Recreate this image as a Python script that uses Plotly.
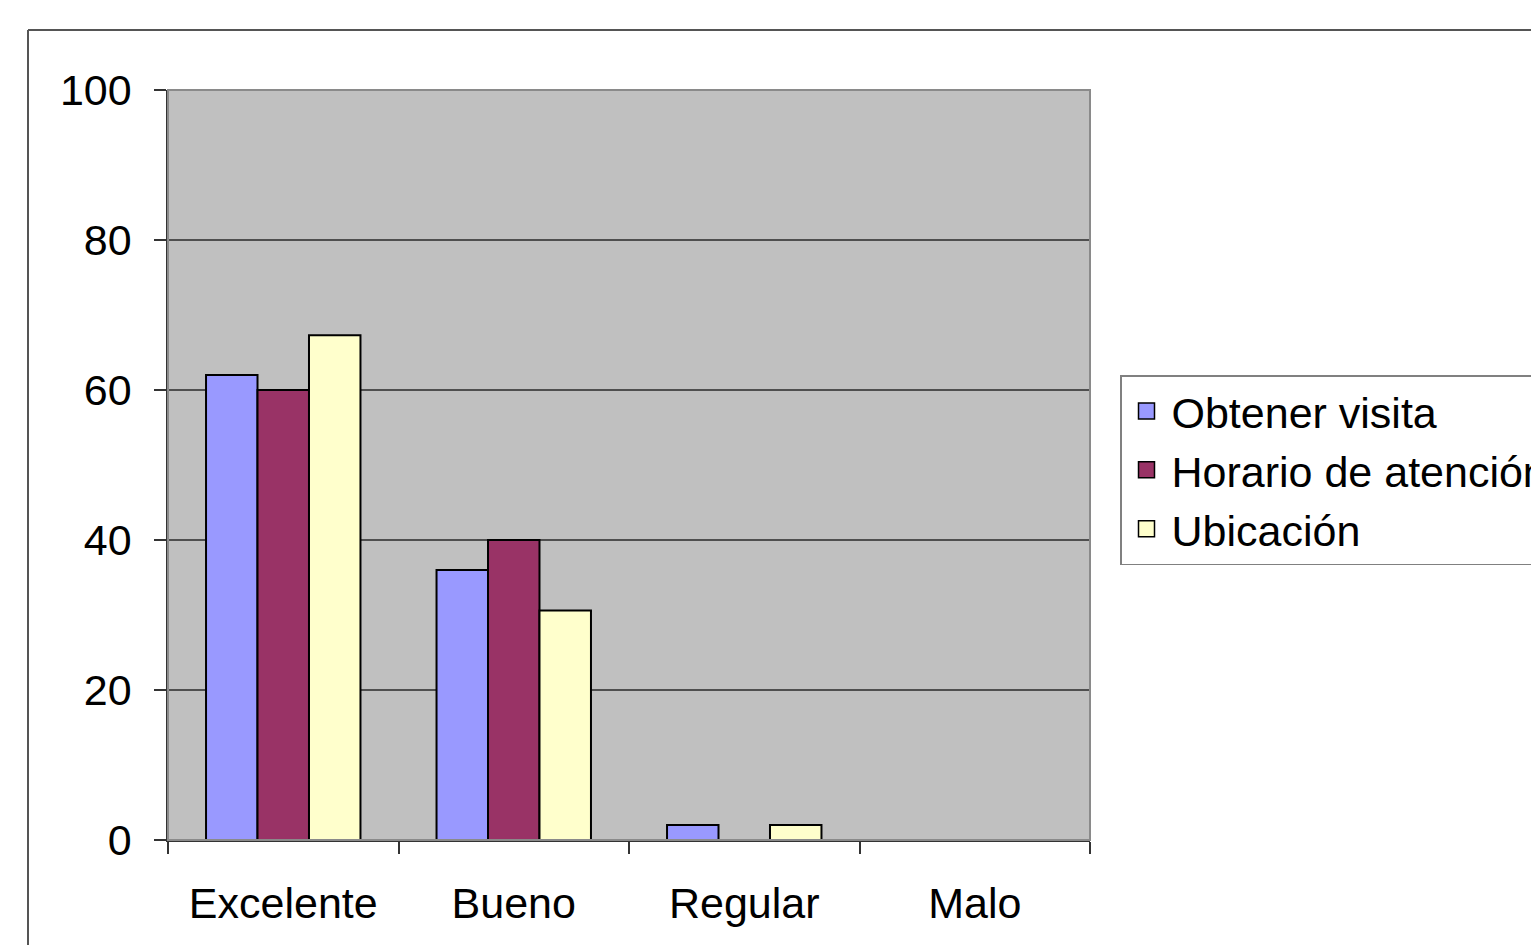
import plotly.graph_objects as go

categories = ["Excelente", "Bueno", "Regular", "Malo"]
series_names = ["Obtener visita", "Horario de atención", "Ubicación"]
obtener_visita = [62, 36, 2, 0]
horario_atencion = [60, 40, 0, 0]
ubicacion = [67.3, 30.6, 2.0, 0]
colors = ["#9999FF", "#993366", "#FFFFCC"]
y_ticks = [0, 20, 40, 60, 80, 100]

FONT = "Liberation Sans, Arial, sans-serif"

fig = go.Figure()
for name, vals, col in zip(series_names, [obtener_visita, horario_atencion, ubicacion], colors):
    fig.add_trace(go.Bar(
        name=name, x=categories, y=vals, legendgroup=name, showlegend=False,
        marker=dict(color=col, line=dict(color="black", width=2)),
    ))
# legend entries (larger square swatches)
for name, col in zip(series_names, colors):
    fig.add_trace(go.Scatter(
        name=name, x=[None], y=[None], mode="markers", legendgroup=name,
        marker=dict(symbol="square", size=16, color=col, line=dict(color="black", width=1.5)),
        showlegend=True,
    ))

fig.update_layout(
    width=1539, height=945, autosize=False,
    margin=dict(l=160, r=457, t=82, b=113, autoexpand=False),
    paper_bgcolor="white", plot_bgcolor="#C0C0C0",
    barmode="group", bargap=0.33, bargroupgap=0,
    font=dict(family=FONT, size=43, color="black"),
    showlegend=True,
    legend=dict(
        x=(1120 - 168) / 922, y=(840 - 375) / 750, xanchor="left", yanchor="top",
        bordercolor="#808080", borderwidth=1.5, bgcolor="white",
        font=dict(family=FONT, size=43, color="black"),
        tracegroupgap=3, traceorder="normal", itemwidth=40,
    ),
    xaxis=dict(
        type="category", tickson="boundaries", ticks="outside", ticklen=12,
        tickcolor="#333333", tickwidth=1.5, showgrid=False,
        showline=True, linecolor="#333333", linewidth=1.5,
        tickfont=dict(family=FONT, size=43), ticklabelstandoff=25,
    ),
    yaxis=dict(
        range=[0, 100], tickvals=y_ticks, ticks="outside", ticklen=12,
        tickcolor="#333333", tickwidth=1.5,
        showgrid=True, gridcolor="#4f4f4f", gridwidth=1.5,
        zeroline=False, showline=True, linecolor="#333333", linewidth=1.5,
        tickfont=dict(family=FONT, size=43), ticklabelstandoff=14,
    ),
    shapes=[
        dict(type="rect", xref="paper", yref="paper", x0=0, x1=1, y0=0, y1=1,
             line=dict(color="#8a8a8a", width=2), layer="above"),
        dict(type="line", xref="paper", yref="paper",
             x0=(28 - 168) / 922, x1=(1560 - 168) / 922,
             y0=(840 - 30) / 750, y1=(840 - 30) / 750,
             line=dict(color="#555555", width=2)),
        dict(type="line", xref="paper", yref="paper",
             x0=(28 - 168) / 922, x1=(28 - 168) / 922,
             y0=(840 - 30) / 750, y1=(840 - 960) / 750,
             line=dict(color="#555555", width=2)),
    ],
)

fig.write_html("out.html")
